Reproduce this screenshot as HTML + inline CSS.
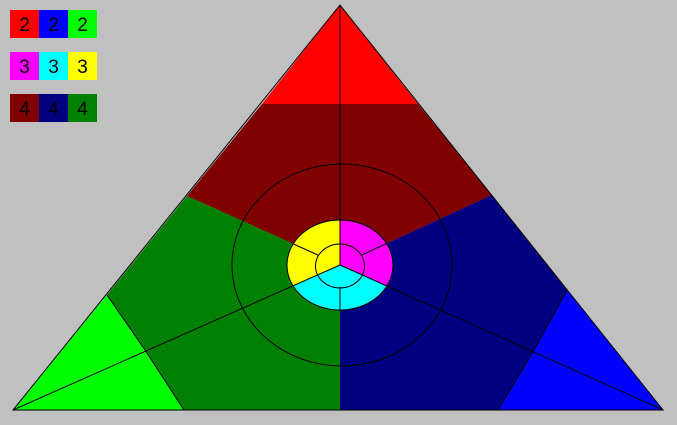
<!DOCTYPE html>
<html><head><meta charset="utf-8"><style>
html,body{margin:0;padding:0;background:#c0c0c0;}
svg{display:block;font-family:"Liberation Sans",sans-serif;}
</style></head><body>
<svg id="chart" width="677" height="425" viewBox="0 0 677 425">
<defs>
<clipPath id="disk"><ellipse cx="340" cy="265" rx="53" ry="45"/></clipPath>
</defs>
<g id="outer"></g>
<g id="disk-g"></g>
<g id="lines"></g>
<g id="legend"></g>
</svg>
<script>
const legendLabels = ["2","2","2","3","3","3","4","4","4"];
const legendColors = ["#ff0000","#0000ff","#00ff00","#ff00ff","#00ffff","#ffff00","#800000","#000080","#008000"];
const NS="http://www.w3.org/2000/svg";
function mk(tag,attrs,parent){const e=document.createElementNS(NS,tag);for(const k in attrs)e.setAttribute(k,attrs[k]);parent.appendChild(e);return e;}
const C=[340,265];
const outer=document.getElementById('outer');
const regions=[
 {n:'region-top-corner',c:'#ff0000',p:[[340,5],[418,104],[262,104]]},
 {n:'region-left-corner',c:'#00ff00',p:[[13,410],[107,295],[145,350],[184,410]]},
 {n:'region-right-corner',c:'#0000ff',p:[[663,410],[567,290],[534,350],[498,410]]},
 {n:'region-top',c:'#800000',p:[[262,104],[418,104],[492,195],C,[187,196]]},
 {n:'region-right',c:'#000080',p:[[492,195],[567,290],[534,350],[498,410],[340,410],C]},
 {n:'region-left',c:'#008000',p:[[187,196],C,[340,410],[184,410],[145,350],[107,295]]}
];
regions.forEach(r=>{
 const e=mk('polygon',{points:r.p.map(q=>q.join(',')).join(' '),fill:r.c},outer);
 
 
});
[[[107,295],[145,350],[184,410]],[[567,290],[534,350],[498,410]]].forEach(pts=>{
 mk('polyline',{points:pts.map(q=>q.join(',')).join(' '),fill:'none',stroke:'#000','stroke-width':1},outer);
});
const dg=document.getElementById('disk-g');
const sect=[
 {n:'sector-yellow',c:'#ffff00',p:[C,[340,150],[200,150],[13,410]]},
 {n:'sector-magenta',c:'#ff00ff',p:[C,[340,150],[480,150],[663,410]]},
 {n:'sector-cyan',c:'#00ffff',p:[C,[13,410],[663,410]]}
];
sect.forEach(s=>{
 const e=mk('polygon',{points:s.p.map(q=>q.join(',')).join(' '),fill:s.c,'clip-path':'url(#disk)'},dg);
 
 
});
mk('ellipse',{cx:340,cy:265,rx:53,ry:45,fill:'none',stroke:'#000','stroke-width':1},dg);
mk('ellipse',{cx:340,cy:266,rx:24.5,ry:22,fill:'none',stroke:'#000','stroke-width':1},dg);
const L=document.getElementById('lines');
mk('ellipse',{cx:342,cy:265,rx:110,ry:101,fill:'none',stroke:'#000','stroke-width':1},L);
mk('polygon',{points:'340,5 663,410 13,410',fill:'none',stroke:'#000','stroke-width':1},L);
[[340,5],[13,410],[663,410]].forEach(v=>mk('line',{x1:C[0],y1:C[1],x2:v[0],y2:v[1],stroke:'#000','stroke-width':1},L));
[[187,196],[492,195],[340,410]].forEach(v=>{
 const dx=v[0]-C[0],dy=v[1]-C[1];
 const t1=1/Math.sqrt((dx/24.5)**2+(dy/22)**2), t2=1/Math.sqrt((dx/53)**2+(dy/45)**2);
 mk('line',{x1:C[0]+dx*t1,y1:C[1]+dy*t1,x2:C[0]+dx*t2,y2:C[1]+dy*t2,stroke:'#000','stroke-width':1},L);
});
const lg=document.getElementById('legend');
legendLabels.forEach((lab,i)=>{
 const col=i%3,row=Math.floor(i/3);
 const x=10+col*29,y=10+row*42;
 const r=mk('rect',{x:x,y:y,width:29,height:28,fill:legendColors[i]},lg);
 
 
 const t=mk('text',{x:x+14.5,y:y+21,'text-anchor':'middle','font-size':19,fill:'#000'},lg);
 t.textContent=lab;
 
 
});
</script>
</body></html>
